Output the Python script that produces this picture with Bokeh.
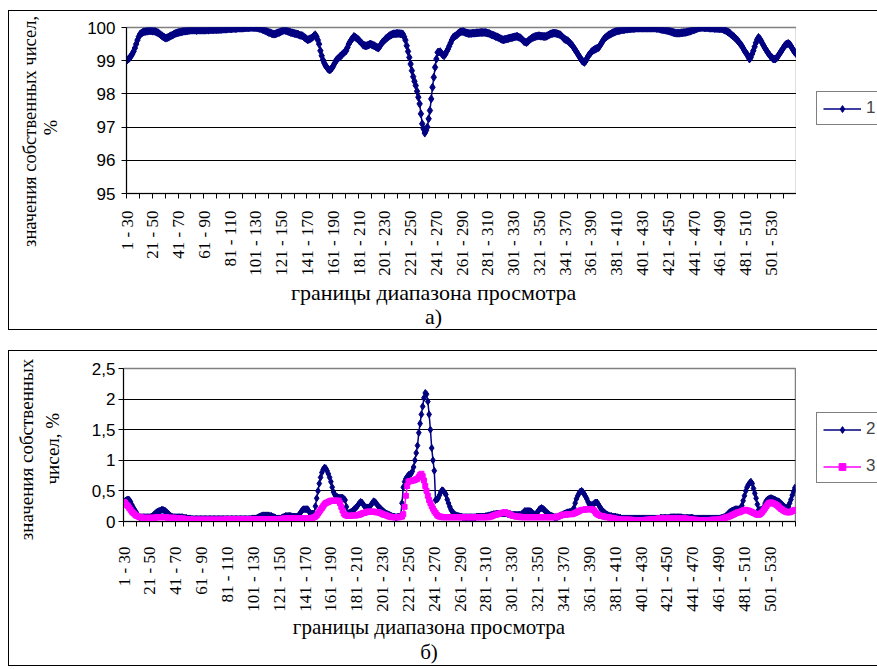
import math
from bokeh.plotting import figure
from bokeh.models import FixedTicker, Legend, LegendItem, Range1d, LinearAxis
from bokeh.layouts import column, row
from bokeh.embed import file_html
from bokeh.resources import INLINE

# ---------------- data ----------------
tick_labels = ["1 - 30", "21 - 50", "41 - 70", "61 - 90", "81 - 110", "101 - 130",
               "121 - 150", "141 - 170", "161 - 190", "181 - 210", "201 - 230",
               "221 - 250", "241 - 270", "261 - 290", "281 - 310", "301 - 330",
               "321 - 350", "341 - 370", "361 - 390", "381 - 410", "401 - 430",
               "421 - 450", "441 - 470", "461 - 490", "481 - 510", "501 - 530"]
label_step = 20

# series 1 (%)
s1 = [
    99.02, 99.05, 99.09, 99.14, 99.20, 99.28, 99.38, 99.50, 99.62, 99.72,
    99.80, 99.83, 99.85, 99.87, 99.88, 99.89, 99.89, 99.90, 99.90, 99.90,
    99.89, 99.89, 99.88, 99.86, 99.84, 99.81, 99.78, 99.75, 99.72, 99.70,
    99.68, 99.69, 99.71, 99.73, 99.75, 99.77, 99.79, 99.81, 99.83, 99.84,
    99.85, 99.86, 99.87, 99.88, 99.89, 99.89, 99.90, 99.90, 99.91, 99.92,
    99.92, 99.92, 99.92, 99.92, 99.91, 99.92, 99.92, 99.92, 99.92, 99.92,
    99.92, 99.92, 99.93, 99.92, 99.93, 99.93, 99.93, 99.93, 99.94, 99.93,
    99.94, 99.94, 99.94, 99.94, 99.95, 99.95, 99.95, 99.95, 99.96, 99.96,
    99.96, 99.96, 99.97, 99.97, 99.97, 99.97, 99.98, 99.98, 99.98, 99.98,
    99.98, 99.99, 99.99, 99.99, 99.99, 100.00, 100.00, 100.00, 100.00, 100.00,
    99.99, 99.99, 99.98, 99.97, 99.96, 99.94, 99.93, 99.91, 99.89, 99.87,
    99.85, 99.84, 99.82, 99.81, 99.80, 99.81, 99.82, 99.84, 99.85, 99.87,
    99.89, 99.91, 99.92, 99.91, 99.90, 99.88, 99.87, 99.85, 99.84, 99.83,
    99.82, 99.81, 99.80, 99.79, 99.77, 99.76, 99.75, 99.72, 99.69, 99.66,
    99.63, 99.64, 99.66, 99.68, 99.71, 99.75, 99.78, 99.72, 99.62, 99.50,
    99.30, 99.15, 99.02, 98.93, 98.85, 98.80, 98.75, 98.72, 98.74, 98.78,
    98.84, 98.92, 99.00, 99.04, 99.08, 99.12, 99.15, 99.19, 99.23, 99.27,
    99.30, 99.40, 99.50, 99.57, 99.63, 99.68, 99.73, 99.71, 99.68, 99.65,
    99.61, 99.57, 99.53, 99.48, 99.46, 99.45, 99.45, 99.47, 99.49, 99.50,
    99.48, 99.46, 99.45, 99.42, 99.40, 99.38, 99.43, 99.49, 99.55, 99.59,
    99.63, 99.67, 99.70, 99.73, 99.76, 99.78, 99.80, 99.81, 99.81, 99.82,
    99.82, 99.82, 99.81, 99.81, 99.80, 99.72, 99.62, 99.45, 99.28, 99.10,
    98.90, 98.70, 98.52, 98.38, 98.25, 98.08, 97.90, 97.70, 97.40, 97.10,
    96.95, 96.82, 96.90, 97.00, 97.25, 97.50, 97.85, 98.20, 98.50, 98.80,
    99.05, 99.25, 99.26, 99.27, 99.22, 99.17, 99.15, 99.20, 99.28, 99.35,
    99.44, 99.53, 99.62, 99.70, 99.73, 99.75, 99.78, 99.82, 99.85, 99.87,
    99.88, 99.88, 99.86, 99.84, 99.83, 99.82, 99.82, 99.82, 99.83, 99.83,
    99.83, 99.84, 99.84, 99.84, 99.85, 99.85, 99.85, 99.85, 99.85, 99.84,
    99.83, 99.82, 99.80, 99.78, 99.77, 99.75, 99.73, 99.72, 99.70, 99.68,
    99.66, 99.64, 99.63, 99.64, 99.65, 99.66, 99.67, 99.68, 99.69, 99.70,
    99.71, 99.72, 99.73, 99.73, 99.71, 99.69, 99.66, 99.62, 99.58, 99.56,
    99.55, 99.58, 99.62, 99.65, 99.68, 99.70, 99.72, 99.73, 99.74, 99.75,
    99.75, 99.74, 99.74, 99.73, 99.73, 99.73, 99.75, 99.77, 99.79, 99.81,
    99.82, 99.83, 99.83, 99.82, 99.81, 99.80, 99.78, 99.75, 99.71, 99.67,
    99.64, 99.62, 99.60, 99.56, 99.52, 99.48, 99.43, 99.37, 99.31, 99.25,
    99.19, 99.12, 99.06, 99.00, 98.97, 98.95, 99.00, 99.08, 99.15, 99.20,
    99.25, 99.29, 99.32, 99.34, 99.36, 99.38, 99.40, 99.46, 99.52, 99.59,
    99.65, 99.69, 99.72, 99.75, 99.78, 99.80, 99.82, 99.84, 99.86, 99.88,
    99.89, 99.90, 99.91, 99.92, 99.93, 99.93, 99.94, 99.95, 99.95, 99.96,
    99.96, 99.96, 99.97, 99.97, 99.97, 99.98, 99.98, 99.98, 99.98, 99.98,
    99.98, 99.98, 99.98, 99.98, 99.98, 99.98, 99.98, 99.98, 99.98, 99.98,
    99.98, 99.97, 99.97, 99.96, 99.95, 99.94, 99.93, 99.93, 99.92, 99.91,
    99.90, 99.89, 99.88, 99.86, 99.85, 99.84, 99.83, 99.83, 99.83, 99.83,
    99.84, 99.84, 99.85, 99.85, 99.86, 99.87, 99.88, 99.89, 99.91, 99.92,
    99.93, 99.95, 99.96, 99.98, 99.99, 100.00, 100.00, 100.00, 99.99, 99.99,
    99.99, 99.99, 99.98, 99.98, 99.98, 99.98, 99.97, 99.97, 99.97, 99.97,
    99.96, 99.96, 99.96, 99.94, 99.92, 99.90, 99.87, 99.85, 99.82, 99.78,
    99.75, 99.72, 99.68, 99.64, 99.60, 99.55, 99.50, 99.45, 99.38, 99.31,
    99.25, 99.20, 99.12, 99.05, 99.10, 99.20, 99.30, 99.42, 99.54, 99.64,
    99.70, 99.66, 99.60, 99.52, 99.45, 99.38, 99.32, 99.26, 99.20, 99.15,
    99.11, 99.07, 99.05, 99.05, 99.08, 99.13, 99.19, 99.25, 99.31, 99.37,
    99.43, 99.48, 99.50, 99.52, 99.50, 99.45, 99.38, 99.32, 99.26, 99.22,
]

# series 2 (%)
s2 = [
    0.32, 0.34, 0.35, 0.36, 0.35, 0.32, 0.27, 0.23, 0.19, 0.16,
    0.12, 0.08, 0.07, 0.07, 0.07, 0.07, 0.07, 0.07, 0.07, 0.07,
    0.07, 0.08, 0.09, 0.11, 0.13, 0.15, 0.16, 0.17, 0.18, 0.19,
    0.19, 0.18, 0.17, 0.15, 0.13, 0.11, 0.09, 0.08, 0.07, 0.07,
    0.07, 0.07, 0.07, 0.07, 0.07, 0.07, 0.06, 0.06, 0.06, 0.05,
    0.05, 0.05, 0.04, 0.04, 0.04, 0.04, 0.04, 0.04, 0.04, 0.04,
    0.04, 0.04, 0.04, 0.04, 0.04, 0.04, 0.04, 0.04, 0.04, 0.04,
    0.04, 0.04, 0.04, 0.04, 0.04, 0.04, 0.04, 0.04, 0.04, 0.04,
    0.04, 0.04, 0.04, 0.04, 0.04, 0.04, 0.04, 0.04, 0.04, 0.04,
    0.04, 0.04, 0.04, 0.04, 0.04, 0.04, 0.04, 0.04, 0.04, 0.05,
    0.05, 0.05, 0.05, 0.06, 0.07, 0.08, 0.09, 0.10, 0.10, 0.10,
    0.10, 0.10, 0.10, 0.09, 0.09, 0.08, 0.07, 0.06, 0.05, 0.05,
    0.05, 0.05, 0.06, 0.07, 0.08, 0.09, 0.09, 0.09, 0.09, 0.09,
    0.08, 0.08, 0.08, 0.08, 0.08, 0.10, 0.13, 0.16, 0.19, 0.20,
    0.20, 0.20, 0.20, 0.17, 0.13, 0.13, 0.13, 0.13, 0.25, 0.38,
    0.50, 0.62, 0.72, 0.80, 0.85, 0.88, 0.87, 0.83, 0.78, 0.72,
    0.65, 0.56, 0.48, 0.44, 0.41, 0.40, 0.39, 0.39, 0.39, 0.39,
    0.37, 0.35, 0.24, 0.13, 0.14, 0.15, 0.16, 0.18, 0.20, 0.22,
    0.24, 0.27, 0.30, 0.32, 0.31, 0.28, 0.25, 0.23, 0.23, 0.23,
    0.24, 0.27, 0.30, 0.33, 0.32, 0.30, 0.27, 0.24, 0.22, 0.20,
    0.18, 0.16, 0.14, 0.13, 0.12, 0.11, 0.10, 0.09, 0.08, 0.08,
    0.07, 0.07, 0.08, 0.08, 0.09, 0.30, 0.56, 0.65, 0.70, 0.73,
    0.76, 0.77, 0.78, 0.82, 0.89, 1.00, 1.12, 1.24, 1.45, 1.60,
    1.75, 1.88, 2.02, 2.10, 2.08, 1.96, 1.75, 1.50, 1.20, 1.00,
    0.83, 0.35, 0.36, 0.38, 0.43, 0.48, 0.51, 0.50, 0.47, 0.44,
    0.36, 0.30, 0.24, 0.19, 0.16, 0.13, 0.11, 0.10, 0.09, 0.09,
    0.08, 0.08, 0.07, 0.07, 0.07, 0.07, 0.07, 0.07, 0.07, 0.07,
    0.07, 0.07, 0.07, 0.08, 0.08, 0.08, 0.08, 0.08, 0.08, 0.08,
    0.09, 0.09, 0.10, 0.10, 0.11, 0.11, 0.12, 0.12, 0.13, 0.13,
    0.13, 0.13, 0.13, 0.13, 0.13, 0.13, 0.13, 0.12, 0.12, 0.12,
    0.11, 0.11, 0.11, 0.11, 0.11, 0.11, 0.11, 0.11, 0.13, 0.15,
    0.17, 0.17, 0.17, 0.17, 0.17, 0.16, 0.14, 0.12, 0.11, 0.13,
    0.16, 0.19, 0.21, 0.22, 0.21, 0.19, 0.17, 0.15, 0.13, 0.11,
    0.10, 0.09, 0.08, 0.07, 0.07, 0.07, 0.08, 0.09, 0.10, 0.11,
    0.12, 0.13, 0.14, 0.15, 0.15, 0.16, 0.16, 0.16, 0.22, 0.30,
    0.37, 0.42, 0.46, 0.49, 0.50, 0.48, 0.45, 0.41, 0.37, 0.32,
    0.28, 0.27, 0.27, 0.28, 0.30, 0.31, 0.31, 0.28, 0.24, 0.21,
    0.18, 0.16, 0.14, 0.12, 0.11, 0.10, 0.09, 0.09, 0.08, 0.08,
    0.08, 0.07, 0.07, 0.06, 0.06, 0.05, 0.05, 0.05, 0.05, 0.05,
    0.05, 0.05, 0.05, 0.05, 0.05, 0.05, 0.05, 0.05, 0.05, 0.05,
    0.05, 0.05, 0.05, 0.05, 0.05, 0.05, 0.05, 0.05, 0.05, 0.05,
    0.05, 0.05, 0.05, 0.05, 0.05, 0.06, 0.06, 0.06, 0.06, 0.06,
    0.06, 0.06, 0.06, 0.07, 0.07, 0.07, 0.07, 0.07, 0.07, 0.07,
    0.07, 0.07, 0.06, 0.06, 0.06, 0.06, 0.06, 0.06, 0.06, 0.06,
    0.06, 0.05, 0.05, 0.05, 0.05, 0.05, 0.05, 0.05, 0.05, 0.05,
    0.05, 0.05, 0.05, 0.05, 0.05, 0.05, 0.05, 0.05, 0.05, 0.05,
    0.05, 0.05, 0.06, 0.06, 0.07, 0.08, 0.10, 0.12, 0.14, 0.16,
    0.17, 0.18, 0.19, 0.20, 0.20, 0.20, 0.20, 0.20, 0.26, 0.34,
    0.42, 0.50, 0.56, 0.60, 0.63, 0.65, 0.62, 0.54, 0.46, 0.38,
    0.28, 0.19, 0.19, 0.19, 0.19, 0.24, 0.30, 0.34, 0.36, 0.37,
    0.38, 0.38, 0.37, 0.36, 0.35, 0.34, 0.33, 0.32, 0.30, 0.28,
    0.26, 0.24, 0.22, 0.23, 0.24, 0.30, 0.36, 0.43, 0.49, 0.55,
]

# series 3 (%)
s3 = [
    0.32, 0.30, 0.27, 0.25, 0.22, 0.19, 0.16, 0.14, 0.12, 0.10,
    0.09, 0.08, 0.07, 0.07, 0.06, 0.06, 0.06, 0.06, 0.06, 0.06,
    0.06, 0.06, 0.06, 0.06, 0.06, 0.07, 0.07, 0.07, 0.07, 0.07,
    0.07, 0.07, 0.07, 0.07, 0.06, 0.06, 0.06, 0.06, 0.06, 0.06,
    0.05, 0.05, 0.05, 0.05, 0.05, 0.05, 0.05, 0.04, 0.04, 0.04,
    0.04, 0.04, 0.03, 0.03, 0.03, 0.03, 0.03, 0.03, 0.03, 0.03,
    0.03, 0.03, 0.03, 0.03, 0.03, 0.03, 0.03, 0.03, 0.03, 0.03,
    0.03, 0.03, 0.03, 0.03, 0.03, 0.03, 0.03, 0.03, 0.03, 0.04,
    0.04, 0.04, 0.04, 0.04, 0.04, 0.04, 0.04, 0.04, 0.04, 0.04,
    0.04, 0.04, 0.04, 0.04, 0.04, 0.04, 0.04, 0.04, 0.04, 0.04,
    0.04, 0.04, 0.04, 0.04, 0.04, 0.04, 0.04, 0.04, 0.04, 0.04,
    0.04, 0.04, 0.04, 0.04, 0.04, 0.04, 0.04, 0.04, 0.04, 0.04,
    0.04, 0.04, 0.04, 0.05, 0.05, 0.05, 0.05, 0.05, 0.05, 0.05,
    0.05, 0.05, 0.05, 0.05, 0.05, 0.05, 0.05, 0.05, 0.05, 0.05,
    0.05, 0.05, 0.05, 0.05, 0.05, 0.06, 0.06, 0.07, 0.08, 0.10,
    0.13, 0.16, 0.19, 0.22, 0.25, 0.28, 0.30, 0.31, 0.32, 0.33,
    0.34, 0.34, 0.34, 0.34, 0.34, 0.34, 0.34, 0.30, 0.24, 0.18,
    0.13, 0.11, 0.10, 0.09, 0.09, 0.09, 0.10, 0.10, 0.10, 0.10,
    0.10, 0.11, 0.11, 0.12, 0.13, 0.14, 0.14, 0.15, 0.16, 0.16,
    0.16, 0.16, 0.16, 0.16, 0.16, 0.15, 0.15, 0.15, 0.14, 0.13,
    0.12, 0.11, 0.11, 0.10, 0.09, 0.08, 0.08, 0.07, 0.07, 0.07,
    0.07, 0.07, 0.07, 0.07, 0.08, 0.08, 0.12, 0.24, 0.42, 0.58,
    0.65, 0.66, 0.66, 0.67, 0.67, 0.68, 0.69, 0.70, 0.73, 0.76,
    0.78, 0.74, 0.67, 0.58, 0.50, 0.42, 0.35, 0.30, 0.25, 0.21,
    0.17, 0.14, 0.11, 0.09, 0.08, 0.08, 0.07, 0.07, 0.07, 0.07,
    0.07, 0.07, 0.07, 0.07, 0.07, 0.07, 0.07, 0.07, 0.07, 0.07,
    0.07, 0.07, 0.07, 0.07, 0.07, 0.07, 0.07, 0.07, 0.07, 0.07,
    0.07, 0.07, 0.07, 0.07, 0.07, 0.07, 0.07, 0.07, 0.07, 0.07,
    0.07, 0.07, 0.07, 0.08, 0.08, 0.09, 0.10, 0.11, 0.11, 0.12,
    0.13, 0.13, 0.14, 0.14, 0.15, 0.15, 0.14, 0.13, 0.12, 0.11,
    0.10, 0.09, 0.09, 0.08, 0.08, 0.08, 0.08, 0.07, 0.07, 0.07,
    0.07, 0.07, 0.07, 0.07, 0.07, 0.07, 0.07, 0.07, 0.07, 0.07,
    0.07, 0.07, 0.07, 0.07, 0.07, 0.07, 0.07, 0.07, 0.07, 0.07,
    0.07, 0.07, 0.07, 0.07, 0.07, 0.08, 0.08, 0.09, 0.10, 0.11,
    0.11, 0.11, 0.11, 0.12, 0.12, 0.12, 0.12, 0.12, 0.13, 0.14,
    0.15, 0.16, 0.17, 0.18, 0.19, 0.19, 0.19, 0.20, 0.20, 0.20,
    0.20, 0.20, 0.20, 0.19, 0.17, 0.14, 0.12, 0.11, 0.10, 0.09,
    0.09, 0.08, 0.08, 0.07, 0.07, 0.07, 0.06, 0.06, 0.05, 0.05,
    0.05, 0.04, 0.04, 0.04, 0.03, 0.03, 0.03, 0.03, 0.03, 0.03,
    0.03, 0.03, 0.03, 0.02, 0.02, 0.02, 0.02, 0.02, 0.02, 0.02,
    0.02, 0.02, 0.02, 0.02, 0.03, 0.03, 0.03, 0.03, 0.04, 0.04,
    0.04, 0.04, 0.04, 0.05, 0.05, 0.05, 0.05, 0.05, 0.05, 0.05,
    0.05, 0.05, 0.05, 0.05, 0.05, 0.05, 0.05, 0.05, 0.05, 0.05,
    0.05, 0.05, 0.05, 0.05, 0.05, 0.05, 0.04, 0.04, 0.04, 0.03,
    0.03, 0.03, 0.03, 0.02, 0.02, 0.02, 0.02, 0.02, 0.02, 0.02,
    0.02, 0.02, 0.02, 0.02, 0.02, 0.03, 0.03, 0.03, 0.03, 0.03,
    0.03, 0.04, 0.04, 0.05, 0.05, 0.06, 0.07, 0.07, 0.08, 0.09,
    0.10, 0.11, 0.12, 0.13, 0.14, 0.15, 0.15, 0.16, 0.17, 0.18,
    0.19, 0.19, 0.18, 0.18, 0.17, 0.16, 0.15, 0.14, 0.13, 0.12,
    0.11, 0.11, 0.12, 0.14, 0.16, 0.19, 0.22, 0.25, 0.28, 0.30,
    0.31, 0.31, 0.30, 0.29, 0.28, 0.27, 0.25, 0.23, 0.21, 0.20,
    0.18, 0.17, 0.16, 0.15, 0.15, 0.15, 0.16, 0.17, 0.18, 0.19,
]

y1_ticks = [95, 96, 97, 98, 99, 100]
y2_ticks = [0, 0.5, 1, 1.5, 2, 2.5]
y2_tick_labels = ["0", "0,5", "1", "1,5", "2", "2,5"]

series_names = ["1", "2", "3"]
y_title_top = ["значения собственных чисел,", "%"]
y_title_bottom = ["значения собственных", "чисел, %"]
x_title = "границы диапазона просмотра"
captions = ["а)", "б)"]

# ---------------- styling ----------------
NAVY = "#000080"
MAGENTA = "#FF00FF"
SERIF = "Liberation Serif"
SANS = "Liberation Sans"
n = len(s1)
xs = list(range(n))
LINE = "1px solid black"


def make_fig(height, yr, left, top, bottom, right, yt, ylabels, x_standoff, y_standoff):
    p = figure(width=788, height=height, output_backend="svg", toolbar_location=None,
               x_range=Range1d(-0.5, n - 0.5), y_range=Range1d(*yr),
               min_border_left=left, min_border_top=top, min_border_bottom=bottom,
               min_border_right=right)
    p.styles = {"border-left": LINE, "border-top": LINE, "border-bottom": LINE}
    p.outline_line_color = "#808080"
    p.outline_line_width = 1.5
    p.background_fill_color = "white"
    p.border_fill_color = "white"
    # x axis
    p.xgrid.visible = False
    major = [k * label_step for k in range(len(tick_labels))]
    minor = [b - 0.5 for b in range(0, n + 1, 10)]
    p.xaxis.ticker = FixedTicker(ticks=major, minor_ticks=minor)
    p.xaxis.major_label_overrides = {m: t for m, t in zip(major, tick_labels)}
    p.xaxis.major_label_orientation = math.pi / 2
    p.xaxis.major_tick_out = 0
    p.xaxis.major_tick_in = 0
    p.xaxis.minor_tick_out = 5
    p.xaxis.minor_tick_in = 0
    p.xaxis.minor_tick_line_color = "black"
    p.xaxis.axis_line_color = "black"
    p.xaxis.major_label_text_font = SERIF
    p.xaxis.major_label_text_font_size = "17px"
    p.xaxis.major_label_text_color = "black"
    p.xaxis.major_label_standoff = x_standoff
    # y axis
    p.yaxis.ticker = FixedTicker(ticks=yt, minor_ticks=[])
    if ylabels is not None:
        p.yaxis.major_label_overrides = {v: t for v, t in zip(yt, ylabels)}
    p.yaxis.major_tick_out = 5
    p.yaxis.major_tick_in = 0
    p.yaxis.major_tick_line_color = "black"
    p.yaxis.axis_line_color = "black"
    p.yaxis.major_label_text_font = SANS
    p.yaxis.major_label_text_font_size = "17px"
    p.yaxis.major_label_text_color = "black"
    p.yaxis.major_label_standoff = y_standoff
    p.ygrid.grid_line_color = "black"
    p.ygrid.grid_line_width = 1
    return p


def text_axis(p, side, pos, text, size, standoff, line_height=1.2):
    """A bare axis whose only tick label carries a title text."""
    ax = LinearAxis(ticker=FixedTicker(ticks=[pos], minor_ticks=[]),
                    major_label_overrides={pos: text},
                    axis_line_color=None, major_tick_line_color=None,
                    minor_tick_line_color=None, major_tick_out=0, major_tick_in=0,
                    major_label_standoff=standoff,
                    major_label_text_font=SERIF, major_label_text_font_size=size,
                    major_label_text_line_height=line_height,
                    major_label_text_color="black")
    if side == "left":
        ax.major_label_orientation = "vertical"
    p.add_layout(ax, side)
    return ax


def legend_fig(height, specs, loc, padding):
    """Side figure (frame aligned with the chart) that holds the legend box.
    Its renderers carry the series data but lie outside its own (empty) view."""
    q = figure(width=81, height=height, output_backend="svg", toolbar_location=None,
               x_range=Range1d(-3, -2), y_range=Range1d(-3, -2), min_border=0,
               x_axis_location=None, y_axis_location=None)
    q.styles = {"border-top": LINE, "border-bottom": LINE}
    q.outline_line_color = None
    q.xgrid.visible = False
    q.ygrid.visible = False
    items = []
    for name, ys, color, marker, msize in specs:
        rl = q.line(xs, ys, line_color=color, line_width=1.5)
        rm = q.scatter(xs, ys, marker=marker, size=msize, color=color)
        items.append(LegendItem(label=name, renderers=[rl, rm]))
    q.add_layout(Legend(items=items, location=loc, orientation="vertical",
                        border_line_color="black", border_line_width=1,
                        background_fill_color="white", background_fill_alpha=1,
                        padding=padding, glyph_width=38, glyph_height=17,
                        label_height=17, label_width=30, label_standoff=5,
                        spacing=17, margin=0,
                        label_text_font=SANS, label_text_font_size="17px"))
    return q


# ---------------- top chart ----------------
H1 = 320
p1 = make_fig(H1, (95, 100), 117, 16, 138, 1, y1_ticks, None, 12, 6)
p1.line(xs, s1, line_color=NAVY, line_width=1.5)
p1.scatter(xs, s1, marker="diamond", size=8, color=NAVY)
text_axis(p1, "left", 96.99, y_title_top[1], "18.5px", 23)
text_axis(p1, "left", 96.87, y_title_top[0], "18.5px", -2)
text_axis(p1, "below", 237.9, x_title + "\n" + captions[0], "22px", 1, 0.97)
leg1 = legend_fig(H1, [(series_names[0], s1, NAVY, "diamond", 8)], (20, 68), 6)

# ---------------- bottom chart ----------------
H2 = 316
p2 = make_fig(H2, (0, 2.5), 114, 17, 144, 2, y2_ticks, y2_tick_labels, 20, 3)
p2.line(xs, s2, line_color=NAVY, line_width=1.5)
p2.scatter(xs, s2, marker="diamond", size=7, color=NAVY)
p2.line(xs, s3, line_color=MAGENTA, line_width=1.5)
p2.scatter(xs, s3, marker="square", size=5, color=MAGENTA)
text_axis(p2, "left", 1.19, y_title_bottom[1], "19px", 25)
text_axis(p2, "left", 1.177, y_title_bottom[0], "19px", 2)
text_axis(p2, "below", 235.9, x_title + "\n" + captions[1], "21px", 0, 1.075)
leg2 = legend_fig(H2, [(series_names[1], s2, NAVY, "diamond", 7),
                       (series_names[2], s3, MAGENTA, "square", 5)], (20, 38), 6)

layout = column(row(p1, leg1, spacing=0), row(p2, leg2, spacing=0),
                spacing=20, margin=(10, 0, 0, 8))
open("out.html", "w").write(file_html(layout, INLINE))
